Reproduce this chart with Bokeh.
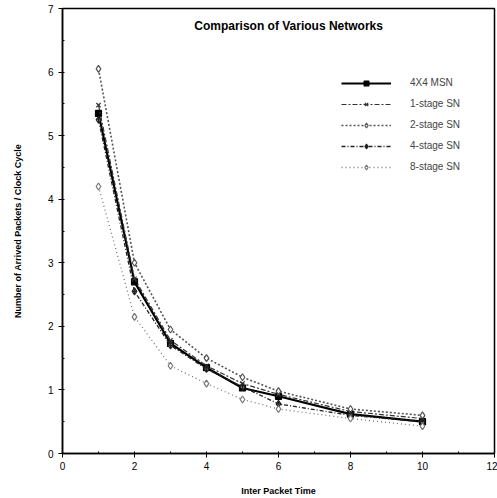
from bokeh.plotting import figure
from bokeh.embed import file_html
from bokeh.resources import INLINE
from bokeh.models import Legend, LegendItem, SingleIntervalTicker
from bokeh.core.properties import value

x_vals = [1, 2, 3, 4, 5, 6, 8, 10]
msn = [5.35, 2.7, 1.73, 1.35, 1.03, 0.9, 0.62, 0.5]
stage1 = [5.48, 2.75, 1.78, 1.38, 1.1, 0.93, 0.66, 0.55]
stage2 = [6.05, 3.0, 1.95, 1.5, 1.2, 0.98, 0.7, 0.6]
stage4 = [5.25, 2.55, 1.7, 1.33, 1.05, 0.78, 0.6, 0.5]
stage8 = [4.2, 2.15, 1.38, 1.1, 0.85, 0.7, 0.55, 0.43]
names = ["4X4 MSN", "1-stage SN", "2-stage SN", "4-stage SN", "8-stage SN"]
title_text = "Comparison of Various Networks"
x_label = "Inter Packet Time"
y_label = "Number of Arrived Packets / Clock Cycle"

FONT = "Liberation Sans"

p = figure(width=497, height=498, x_range=(0, 12), y_range=(0, 7),
           output_backend="svg", toolbar_location=None,
           min_border_left=62, min_border_right=3, min_border_top=8,
           min_border_bottom=40)
p.grid.visible = False
p.outline_line_color = "black"
p.outline_line_width = 1.5
p.background_fill_color = "white"
p.border_fill_color = "white"

p.xaxis.ticker = SingleIntervalTicker(interval=2, num_minor_ticks=2)
p.yaxis.ticker = SingleIntervalTicker(interval=1, num_minor_ticks=2)
for ax in (p.xaxis[0], p.yaxis[0]):
    ax.axis_line_color = "black"
    ax.axis_line_width = 1.5
    ax.major_tick_in = 0
    ax.major_tick_out = 4
    ax.minor_tick_in = 2
    ax.minor_tick_out = 0
    ax.major_label_text_font = FONT
    ax.major_label_text_font_size = "10px"
    ax.major_label_text_color = "black"
    ax.axis_label_text_font = FONT
    ax.axis_label_text_font_style = "bold"
    ax.axis_label_text_font_size = "9px"
    ax.axis_label_text_color = "black"
p.xaxis.axis_label = x_label
p.yaxis.axis_label = y_label
p.xaxis.major_label_standoff = 4
p.xaxis.axis_label_standoff = 13
p.yaxis.axis_label_standoff = 22

styles = [
    dict(data=msn, dash="solid", width=2.2, color="black", marker="square", fill="black", size=6),
    dict(data=stage1, dash="5 2 2 2", width=1.2, color="#333333", marker="x", fill=None, size=6),
    dict(data=stage2, dash="2 2", width=1.6, color="#555555", marker="diamond", fill="white", size=7),
    dict(data=stage4, dash="4 2 1 2", width=1.3, color="#222222", marker="diamond_cross", fill="white", size=7),
    dict(data=stage8, dash="1 3", width=1.3, color="#777777", marker="diamond", fill="white", size=7),
]

items = []
for name, s in zip(names, styles):
    r1 = p.line(x_vals, s["data"], line_color=s["color"], line_width=s["width"], line_dash=s["dash"])
    r2 = p.scatter(x_vals, s["data"], marker=s["marker"], size=s["size"], line_color=s["color"],
                   fill_color=s["fill"], line_width=1.2)
    items.append(LegendItem(label=name, renderers=[r1, r2]))

legend = Legend(items=items, location=(279, 276), border_line_color=None,
                background_fill_alpha=0, glyph_width=50, glyph_height=12,
                label_standoff=19, label_height=21, spacing=0, padding=4,
                label_text_font=FONT, label_text_font_size="10px")
p.add_layout(legend)

p.text(x=[6.28], y=[6.73], text=[title_text], text_font=value(FONT), text_font_style="bold",
       text_font_size="12px", text_align="center", text_baseline="middle", text_color="black")

open("out.html", "w").write(file_html(p, INLINE))
